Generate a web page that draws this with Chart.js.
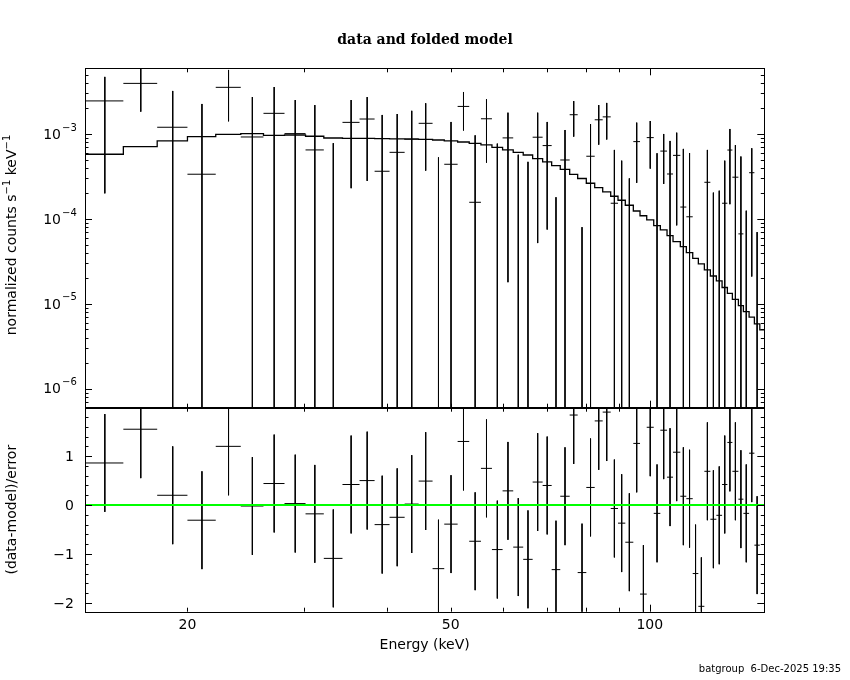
<!DOCTYPE html>
<html>
<head>
<meta charset="utf-8">
<script src="https://cdn.jsdelivr.net/npm/chart.js@4.4.1/dist/chart.umd.min.js"></script>
<style>
html,body{margin:0;padding:0;background:#fff;}
#wrap{width:850px;height:680px;position:relative;background:#fff;}
canvas{display:block;}
</style>
</head>
<body>
<div id="wrap"><canvas id="c" width="850" height="680"></canvas></div>
<script>
// ---------------- data ----------------
// energy bin edges (keV)
const binEdges = [14.0, 16.0, 18.0, 20.0, 22.07, 24.08, 26.06, 28.04, 30.17, 32.15,
  34.31, 36.41, 38.37, 40.42, 42.60, 44.73, 46.95, 48.90, 51.23, 53.34,
  55.56, 57.73, 59.91, 62.17, 64.37, 66.52, 68.87, 71.07, 73.23, 75.67,
  77.81, 80.18, 82.56, 84.89, 87.29, 89.54, 91.84, 94.44, 96.67, 98.95,
  101.39, 103.75, 106.20, 108.44, 111.23, 113.58, 116.14, 118.43, 120.94, 123.49,
  126.10, 128.63, 131.03, 133.33, 136.15, 138.54, 141.32, 143.95, 146.69, 149.0];

// normalized counts s^-1 keV^-1 (data, one per bin with data)
const counts = [2.45e-3, 3.94e-3, 1.20e-3, 3.36e-4, 3.54e-3, 9.22e-4, 1.75e-3, 1.01e-3, 6.49e-4, -4.8e-4,
  1.37e-3, 1.50e-3, 3.64e-4, 6.08e-4, 8.73e-4, 1.335e-3, -5.3e-4, 4.40e-4, 2.11e-3, 1.57e-4,
  1.51e-3, -3.0e-5, 8.99e-4, -1.8e-4, -4.1e-4, 9.16e-4, 7.30e-4, -5.7e-4, 4.94e-4, 1.685e-3,
  -5.0e-4, 5.47e-4, 1.469e-3, 1.59e-3, 1.53e-4, -3.5e-5, -3.3e-4, 8.13e-4, -8.0e-4, 9.06e-4,
  -2.7e-5, 6.29e-4, 3.38e-4, 5.60e-4, 1.38e-4, 1.06e-4, -6.0e-4, -9.0e-4, 2.70e-4, -5.3e-5,
  -3.3e-5, 1.53e-4, 6.47e-4, 3.10e-4, 6.67e-5, -1.6e-5, 3.50e-4, -2.9e-4];

// 1-sigma errors on counts
const countErr = [2.25e-3, 2.11e-3, 2.01e-3, 1.92e-3, 2.13e-3, 1.80e-3, 1.82e-3, 1.50e-3, 1.54e-3, 1.26e-3,
  1.14e-3, 1.22e-3, 1.31e-3, 1.11e-3, 1.00e-3, 9.65e-4, 1.06e-3, 9.45e-4, 1.01e-3, 8.07e-4,
  1.05e-3, 8.0e-4, 8.81e-4, 7.5e-4, 8.8e-4, 8.64e-4, 6.55e-4, 7.5e-4, 6.2e-4, 7.55e-4,
  5.8e-4, 7.6e-4, 7.21e-4, 7.3e-4, 4.96e-4, 5.2e-4, 6.3e-4, 5.47e-4, 5.0e-4, 5.15e-4,
  6.2e-4, 3.71e-4, 4.9e-4, 4.76e-4, 5.29e-4, 4.91e-4, 4.5e-4, 4.5e-4, 3.79e-4, 2.57e-4,
  2.48e-4, 3.32e-4, 4.98e-4, 4.3e-4, 4.76e-4, 1.41e-4, 3.29e-4, 3.6e-4];

// folded model (one per bin)
const model = [5.77e-4, 7.10e-4, 8.28e-4, 9.29e-4, 9.91e-4, 1.009e-3, 9.64e-4, 9.73e-4, 9.40e-4, 8.97e-4,
  8.89e-4, 8.87e-4, 8.81e-4, 8.75e-4, 8.71e-4, 8.65e-4, 8.49e-4, 8.28e-4, 8.05e-4, 7.76e-4,
  7.43e-4, 6.97e-4, 6.49e-4, 6.08e-4, 5.66e-4, 5.13e-4, 4.69e-4, 4.24e-4, 3.84e-4, 3.35e-4,
  2.99e-4, 2.63e-4, 2.34e-4, 2.08e-4, 1.85e-4, 1.66e-4, 1.45e-4, 1.24e-4, 1.09e-4, 9.73e-5,
  8.36e-5, 7.43e-5, 6.37e-5, 5.41e-5, 4.73e-5, 4.02e-5, 3.44e-5, 2.96e-5, 2.51e-5, 2.13e-5,
  1.87e-5, 1.56e-5, 1.33e-5, 1.13e-5, 9.55e-6, 8.13e-6, 6.97e-6, 5.82e-6, 4.94e-6];

// (data-model)/error, one per data bin
const residuals = [0.86, 1.55, 0.20, -0.31, 1.20, -0.02, 0.44, 0.03, -0.18, -1.09,
  0.42, 0.50, -0.40, -0.25, 0.02, 0.49, -1.30, -0.39, 1.30, -0.74,
  0.75, -0.91, 0.29, -0.86, -1.11, 0.47, 0.40, -1.32, 0.18, 1.84,
  -1.38, 0.36, 1.72, 1.90, -0.07, -0.37, -0.76, 1.26, -1.82, 1.59,
  -0.17, 1.53, 0.57, 1.08, 0.18, 0.13, -1.40, -2.07, 0.69, -0.29,
  -0.21, 0.42, 1.28, 0.69, 0.12, -0.17, 1.06, -0.82];

// axis ranges and ticks
const xRange = [14.0, 149.0];
const yTopRange = [6.0e-7, 5.93e-3];
const yResRange = [-2.18, 1.99];
const xTickValues = [20, 30, 40, 50, 60, 70, 80, 90, 100];
const xTickLabels = ['20', '50', '100'];
const yTopDecades = [-7, -6, -5, -4, -3, -2];
const yTopLabelDecades = [-6, -5, -4, -3];
const yResLabels = [-2, -1, 0, 1];

const titleText = 'data and folded model';
const xTitle = 'Energy (keV)';
const yTopTitle = [['normalized counts s', false], ['\u22121', true], [' keV', false], ['\u22121', true]];
const yResTitle = '(data-model)/error';
const footerText = 'batgroup  6-Dec-2025 19:35';

// ---------------- build datasets ----------------
const FLOOR = yTopRange[0] / 10;
const centers = counts.map((_, i) => (binEdges[i] + binEdges[i + 1]) / 2);

const modelPts = [];
model.forEach((m, i) => { modelPts.push({x: binEdges[i], y: m}, {x: binEdges[i + 1], y: m}); });

const dataH = [], dataV = [], resH = [], resV = [];
counts.forEach((d, i) => {
  const lo = binEdges[i], hi = binEdges[i + 1], c = centers[i], s = countErr[i];
  if (d > 0) dataH.push({x: lo, y: d}, {x: hi, y: d}, {x: hi, y: null});
  const top = d + s, bot = d - s;
  if (top > 0) dataV.push({x: c, y: top}, {x: c, y: bot > 0 ? bot : FLOOR}, {x: c, y: null});
  const r = residuals[i];
  resH.push({x: lo, y: r}, {x: hi, y: r}, {x: hi, y: null});
  resV.push({x: c, y: r + 1}, {x: c, y: r - 1}, {x: c, y: null});
});
const zeroLine = [{x: xRange[0], y: 0}, {x: xRange[1], y: 0}];

function ds(data, axis, color, width, order) {
  return {data, yAxisID: axis, borderColor: color, borderWidth: width, pointRadius: 0,
    pointHoverRadius: 0, fill: false, tension: 0, spanGaps: false, clip: 0, order,
    borderCapStyle: 'butt', borderJoinStyle: 'miter'};
}

// ---------------- frame / ticks / text plugin ----------------
const FONT = '"DejaVu Sans", "Liberation Sans", sans-serif';
function richWidth(ctx, parts) {
  let w = 0;
  for (const [t, sup] of parts) { ctx.font = (sup ? '10px ' : '14px ') + FONT; w += ctx.measureText(t).width; }
  return w;
}
function drawRich(ctx, parts, x0, y0) {
  let x = x0;
  for (const [t, sup] of parts) {
    ctx.font = (sup ? '10px ' : '14px ') + FONT;
    ctx.fillText(t, x, sup ? y0 - 6 : y0);
    x += ctx.measureText(t).width;
  }
}

const pgAxes = {
  id: 'pgAxes',
  afterDraw(chart) {
    const ctx = chart.ctx;
    const xs = chart.scales.x, yt = chart.scales.yTop, yr = chart.scales.yRes;
    const L = xs.left, R = xs.right;
    ctx.save();
    ctx.strokeStyle = '#000';
    ctx.fillStyle = '#000';
    ctx.lineWidth = 1;
    const sn = v => Math.round(v) + 0.5;
    const line = (x1, y1, x2, y2) => { ctx.beginPath(); ctx.moveTo(x1, y1); ctx.lineTo(x2, y2); ctx.stroke(); };

    // frames
    for (const s of [yt, yr]) {
      ctx.strokeRect(sn(L), sn(s.top), Math.round(R) - Math.round(L), Math.round(s.bottom) - Math.round(s.top));
    }
    ctx.lineWidth = 2;
    line(L, Math.round(yt.bottom), R, Math.round(yt.bottom));
    ctx.lineWidth = 1;

    // x ticks on both panels
    for (const v of xTickValues) {
      const px = sn(xs.getPixelForValue(v));
      const len = (v === 100) ? 7 : 4;
      for (const s of [yt, yr]) {
        line(px, s.top, px, s.top + len);
        line(px, s.bottom, px, s.bottom - len);
      }
    }
    // top panel log ticks
    for (const d of yTopDecades) {
      for (let m = 1; m <= 9; m++) {
        const v = m * Math.pow(10, d);
        if (v < yt.min || v > yt.max) continue;
        const py = sn(yt.getPixelForValue(v));
        const len = m === 1 ? 7 : 3.5;
        line(L, py, L + len, py);
        line(R, py, R - len, py);
      }
    }
    // residual panel ticks
    for (let k = -11; k <= 10; k++) {
      const v = k * 0.2;
      if (v < yr.min || v > yr.max) continue;
      const py = sn(yr.getPixelForValue(v));
      const major = (k % 5 === 0);
      const len = major ? 7 : 3.5;
      line(L, py, L + len, py);
      line(R, py, R - len, py);
    }

    // tick labels
    ctx.textBaseline = 'middle';
    ctx.font = '14px ' + FONT;
    ctx.textAlign = 'center';
    for (const lab of xTickLabels) {
      ctx.fillText(lab, xs.getPixelForValue(Number(lab)), yr.bottom + 14);
    }
    for (const d of yTopLabelDecades) {
      const py = yt.getPixelForValue(Math.pow(10, d));
      ctx.textAlign = 'right';
      ctx.font = '14px ' + FONT;
      ctx.fillText('10', 61, py + 1);
      ctx.textAlign = 'left';
      ctx.font = '10px ' + FONT;
      ctx.fillText('\u2212' + Math.abs(d), 62, py - 6);
    }
    ctx.textAlign = 'right';
    ctx.font = '14px ' + FONT;
    for (const v of yResLabels) {
      const lab = v < 0 ? '\u2212' + Math.abs(v) : String(v);
      ctx.fillText(lab, 74, yr.getPixelForValue(v) + 1);
    }

    // axis titles
    ctx.textBaseline = 'alphabetic';
    ctx.textAlign = 'center';
    ctx.font = '14px ' + FONT;
    ctx.fillText(xTitle, (L + R) / 2, 649);

    ctx.save();
    ctx.translate(16, (yt.top + yt.bottom) / 2 - 3);
    ctx.rotate(-Math.PI / 2);
    ctx.textAlign = 'left';
    const w = richWidth(ctx, yTopTitle);
    drawRich(ctx, yTopTitle, -w / 2, 0);
    ctx.restore();

    ctx.save();
    ctx.translate(16, (yr.top + yr.bottom) / 2);
    ctx.rotate(-Math.PI / 2);
    ctx.textAlign = 'center';
    ctx.font = '14px ' + FONT;
    ctx.fillText(yResTitle, 0, 0);
    ctx.restore();

    // title
    ctx.font = 'bold 14px "DejaVu Serif", "Liberation Serif", serif';
    ctx.textAlign = 'center';
    ctx.fillText(titleText, 425, 44);

    // footer
    ctx.font = '10px ' + FONT;
    ctx.textAlign = 'right';
    ctx.fillText(footerText, 841, 672);
    ctx.restore();
  }
};

new Chart(document.getElementById('c'), {
  type: 'line',
  data: {
    datasets: [
      ds(zeroLine, 'yRes', '#00ff00', 2, 0),
      ds(resH, 'yRes', '#000', 1, 1),
      ds(resV, 'yRes', '#000', 1, 1),
      ds(dataH, 'yTop', '#000', 1, 1),
      ds(dataV, 'yTop', '#000', 1, 1),
      ds(modelPts, 'yTop', '#000', 1.3, 2)
    ]
  },
  options: {
    responsive: false,
    animation: false,
    devicePixelRatio: 1,
    events: [],
    layout: {padding: {left: 85, right: 85.7, top: 68.3, bottom: 68.3}},
    plugins: {legend: {display: false}, tooltip: {enabled: false}, title: {display: false}},
    scales: {
      x: {type: 'logarithmic', min: xRange[0], max: xRange[1], display: false},
      yRes: {type: 'linear', min: yResRange[0], max: yResRange[1], display: false,
        position: 'left', stack: 'panels', stackWeight: 204},
      yTop: {type: 'logarithmic', min: yTopRange[0], max: yTopRange[1], display: false,
        position: 'left', stack: 'panels', stackWeight: 339.4}
    }
  },
  plugins: [pgAxes]
});
</script>
</body>
</html>
